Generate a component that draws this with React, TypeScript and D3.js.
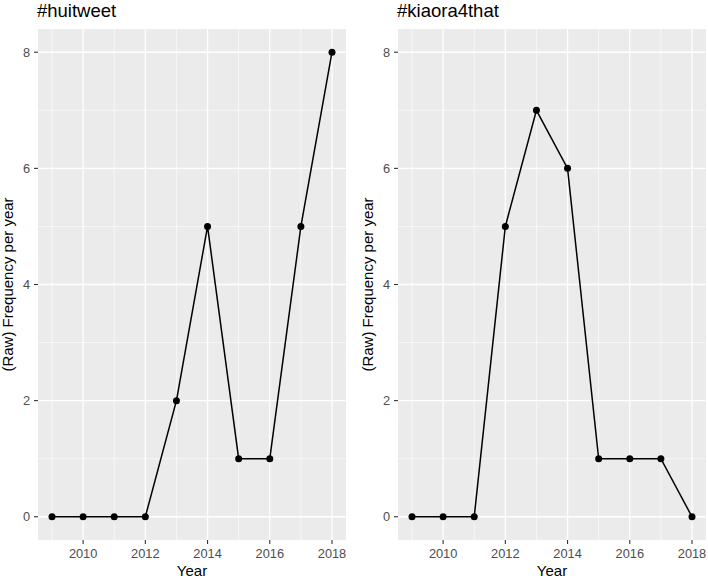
import React from "react";
import * as d3 from "d3";

const years = [2009, 2010, 2011, 2012, 2013, 2014, 2015, 2016, 2017, 2018];
const huitweet = [0, 0, 0, 0, 2, 5, 1, 1, 5, 8];
const kiaora = [0, 0, 0, 5, 7, 6, 1, 1, 1, 0];
const titles = ["#huitweet", "#kiaora4that"];
const xTicks = [2010, 2012, 2014, 2016, 2018];
const xMinor = [2009, 2011, 2013, 2015, 2017];
const yTicks = [0, 2, 4, 6, 8];
const yMinor = [1, 3, 5, 7];

const FONT = "'Liberation Sans', Arial, Helvetica, sans-serif";

function Panel({ left, right, title, values }: { left: number; right: number; title: string; values: number[] }) {
  const top = 29;
  const bottom = 540;
  const x = d3.scaleLinear().domain([2009 - 0.45, 2018 + 0.45]).range([left, right]);
  const y = d3.scaleLinear().domain([-0.4, 8.4]).range([bottom, top]);
  const line = d3
    .line<number>()
    .x((_, i) => x(years[i]))
    .y((v) => y(v));
  return (
    <g>
      <text x={left - 1} y={17} fontSize={18.5} fill="#000" fontFamily={FONT}>
        {title}
      </text>
      <rect x={left} y={top} width={right - left} height={bottom - top} fill="#EBEBEB" />
      {xMinor.map((t) => (
        <line key={"xm" + t} x1={x(t)} x2={x(t)} y1={top} y2={bottom} stroke="#fff" strokeWidth={0.6} />
      ))}
      {yMinor.map((t) => (
        <line key={"ym" + t} x1={left} x2={right} y1={y(t)} y2={y(t)} stroke="#fff" strokeWidth={0.6} />
      ))}
      {xTicks.map((t) => (
        <line key={"xM" + t} x1={x(t)} x2={x(t)} y1={top} y2={bottom} stroke="#fff" strokeWidth={1.3} />
      ))}
      {yTicks.map((t) => (
        <line key={"yM" + t} x1={left} x2={right} y1={y(t)} y2={y(t)} stroke="#fff" strokeWidth={1.3} />
      ))}
      <path d={line(values) || ""} fill="none" stroke="#000" strokeWidth={1.5} />
      {values.map((v, i) => (
        <circle key={i} cx={x(years[i])} cy={y(v)} r={3.5} fill="#000" />
      ))}
      {xTicks.map((t) => (
        <g key={"xt" + t}>
          <line x1={x(t)} x2={x(t)} y1={bottom} y2={bottom + 4} stroke="#333" strokeWidth={1.1} />
          <text x={x(t)} y={bottom + 17.5} textAnchor="middle" fontSize={12.8} fill="#4D4D4D" fontFamily={FONT}>
            {t}
          </text>
        </g>
      ))}
      {yTicks.map((t) => (
        <g key={"yt" + t}>
          <line x1={left - 4} x2={left} y1={y(t)} y2={y(t)} stroke="#333" strokeWidth={1.1} />
          <text x={left - 8} y={y(t) + 4.5} textAnchor="end" fontSize={12.8} fill="#4D4D4D" fontFamily={FONT}>
            {t}
          </text>
        </g>
      ))}
      <text x={(left + right) / 2} y={576} textAnchor="middle" fontSize={15} fill="#000" fontFamily={FONT}>
        Year
      </text>
      <text
        transform={`translate(${left - 25},${(top + bottom) / 2}) rotate(-90)`}
        textAnchor="middle"
        fontSize={15}
        fill="#000"
        fontFamily={FONT}
      >
        (Raw) Frequency per year
      </text>
    </g>
  );
}

export default function App() {
  return (
    <svg width={708} height={580} style={{ position: "absolute", left: 0, top: 0, background: "#fff" }}>
      <rect width={708} height={580} fill="#fff" />
      <Panel left={38} right={346} title={titles[0]} values={huitweet} />
      <Panel left={398} right={706} title={titles[1]} values={kiaora} />
    </svg>
  );
}
